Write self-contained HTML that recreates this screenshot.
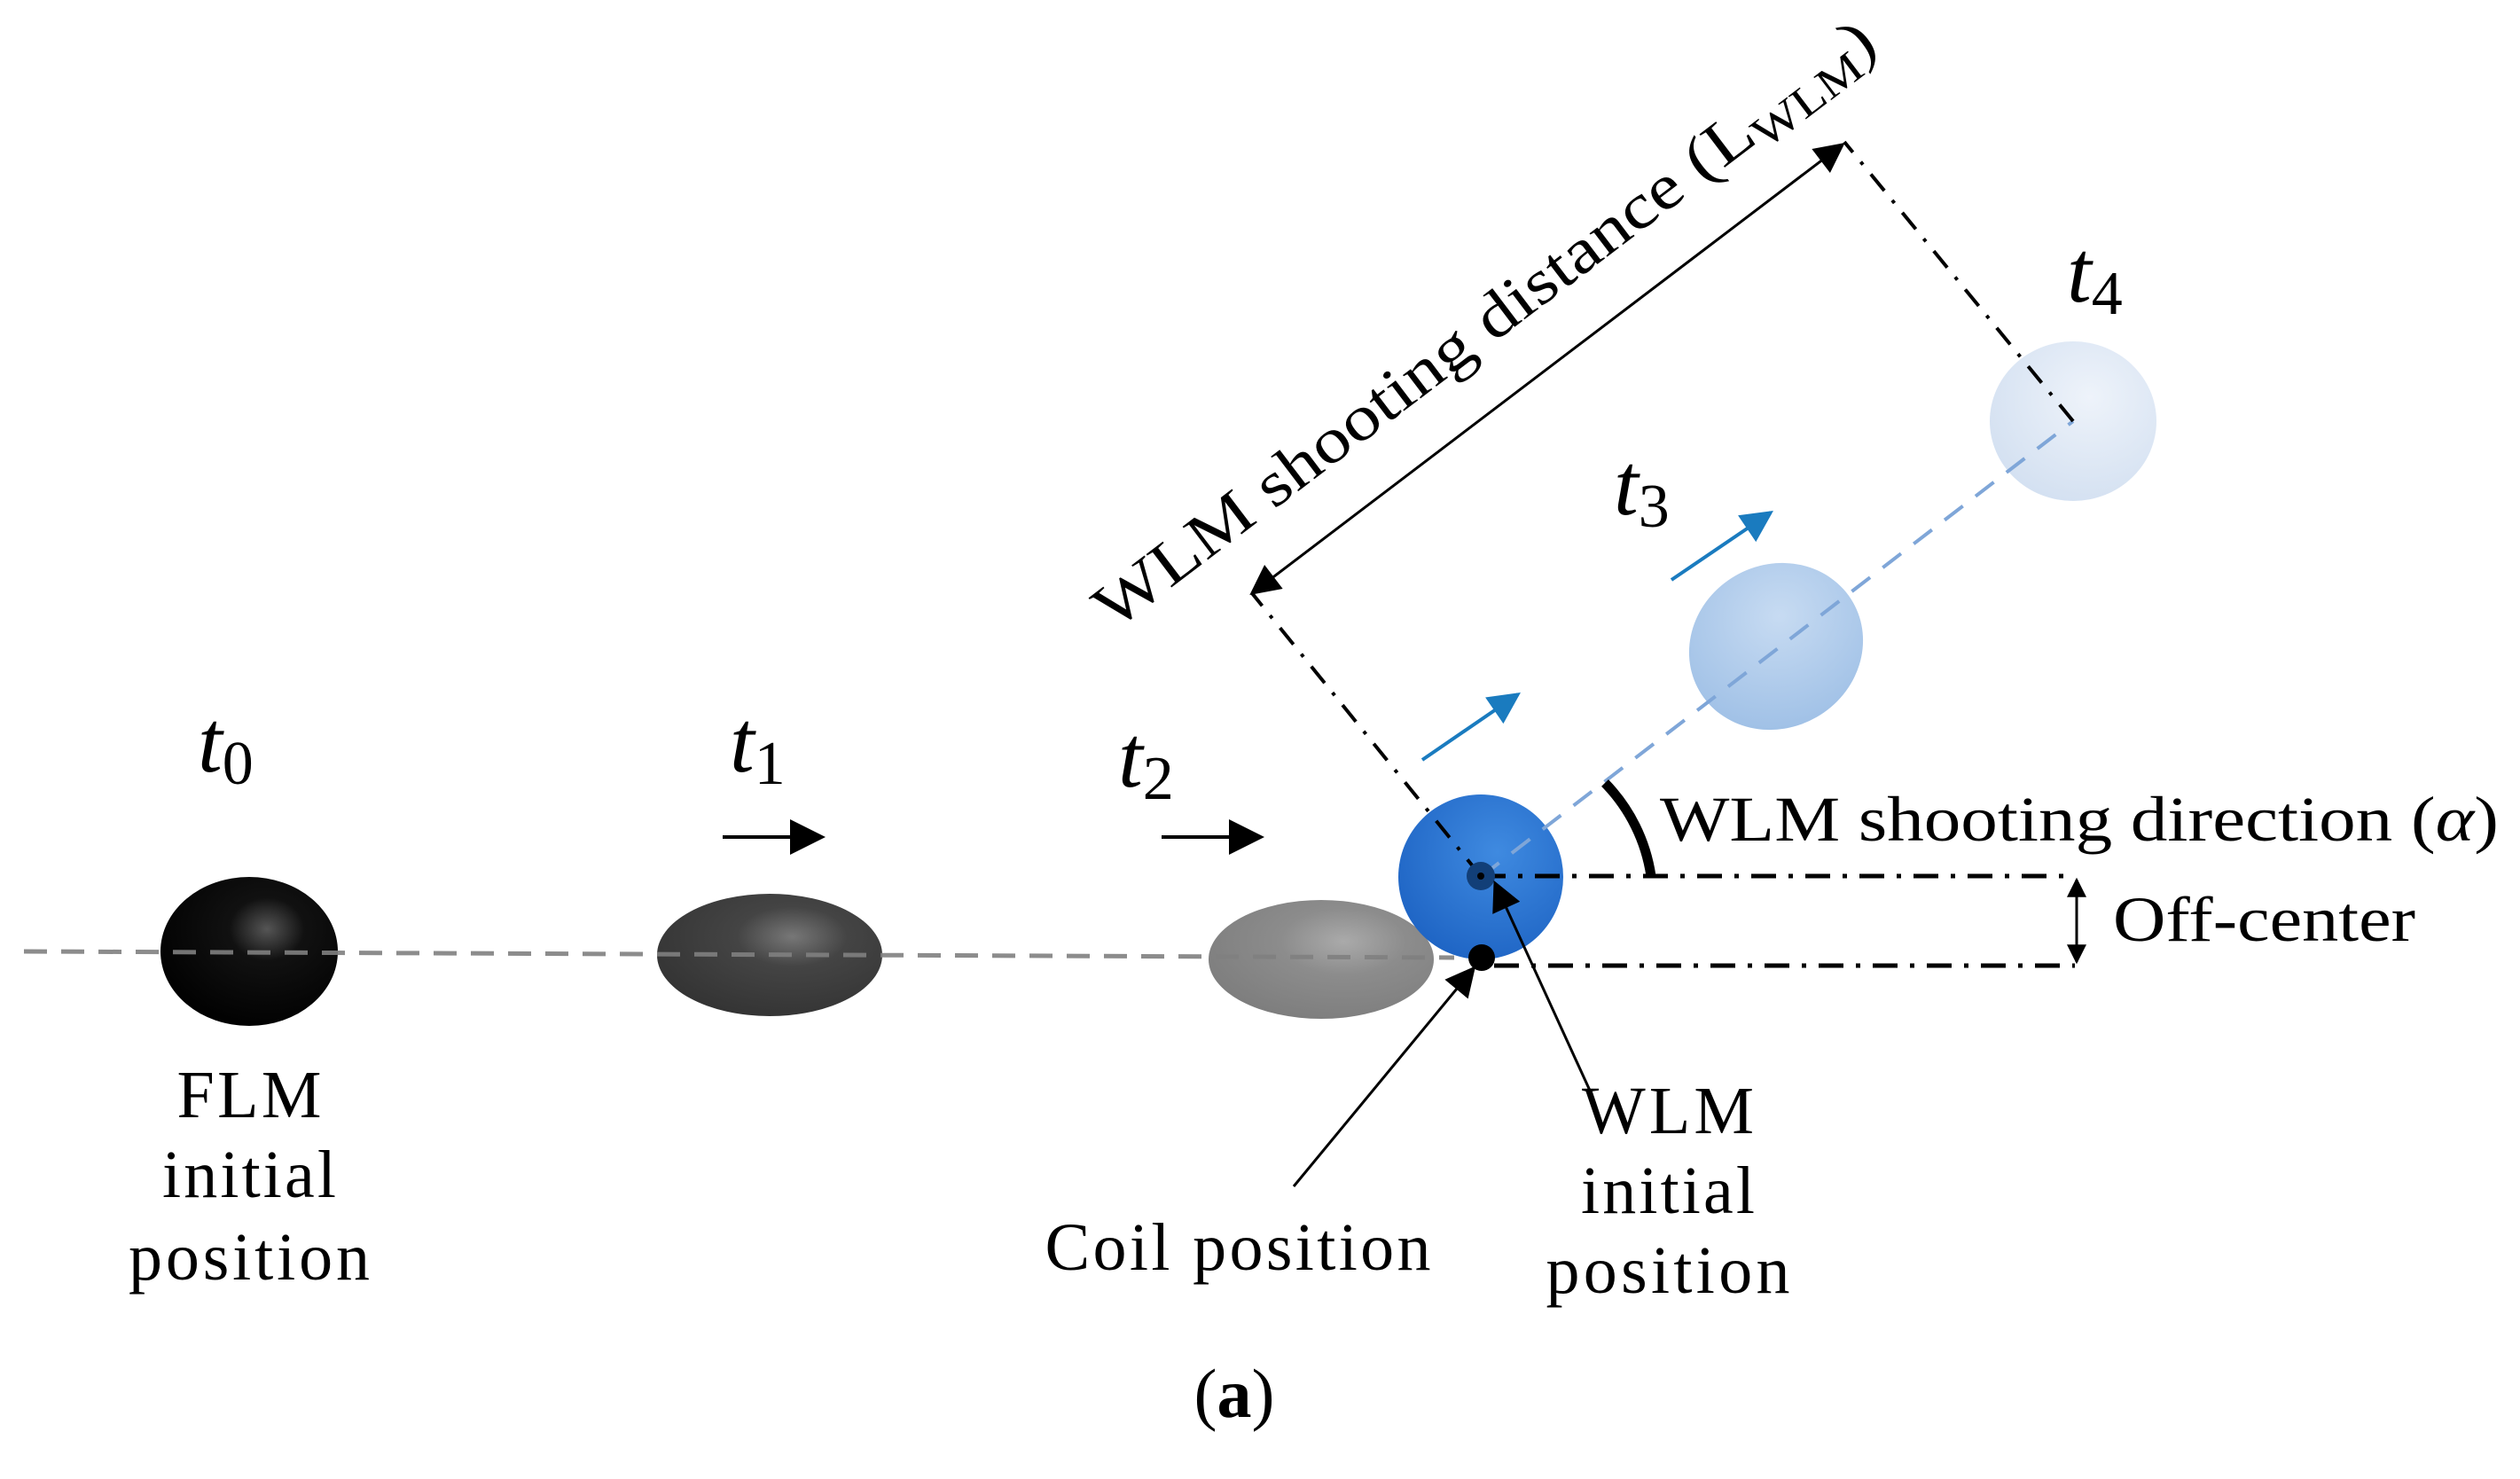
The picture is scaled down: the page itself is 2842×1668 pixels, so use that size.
<!DOCTYPE html>
<html><head><meta charset="utf-8"><style>
html,body{margin:0;padding:0;background:#fff;}
svg{display:block}
text{font-family:"Liberation Serif",serif;fill:#000}
</style></head><body>
<svg width="2842" height="1668" viewBox="0 0 2842 1668" xmlns="http://www.w3.org/2000/svg">
<defs>
<marker id="ahm" viewBox="0 0 10 10" refX="9" refY="5" markerWidth="40" markerHeight="40" orient="auto" markerUnits="userSpaceOnUse"><path d="M0,0 L10,5 L0,10 z" fill="#000"/></marker>
<marker id="ah" viewBox="0 0 10 10" refX="9" refY="5" markerWidth="24" markerHeight="22" orient="auto-start-reverse" markerUnits="userSpaceOnUse"><path d="M0,0 L10,5 L0,10 z" fill="#000"/></marker>
<marker id="ahs" viewBox="0 0 10 10" refX="9" refY="5" markerWidth="38" markerHeight="34" orient="auto-start-reverse" markerUnits="userSpaceOnUse"><path d="M0,0 L10,5 L0,10 z" fill="#000"/></marker>
<marker id="ahb" viewBox="0 0 10 10" refX="9" refY="5" markerWidth="38" markerHeight="36" orient="auto" markerUnits="userSpaceOnUse"><path d="M0,0 L10,5 L0,10 z" fill="#1a7bbf"/></marker>
<radialGradient id="g0" cx="0.6" cy="0.35" r="0.7"><stop offset="0" stop-color="#555"/><stop offset="0.3" stop-color="#111"/><stop offset="1" stop-color="#000"/></radialGradient>
<radialGradient id="g1" cx="0.6" cy="0.35" r="0.7"><stop offset="0" stop-color="#777"/><stop offset="0.35" stop-color="#444"/><stop offset="1" stop-color="#333"/></radialGradient>
<radialGradient id="g2" cx="0.6" cy="0.35" r="0.7"><stop offset="0" stop-color="#aaa"/><stop offset="0.4" stop-color="#8c8c8c"/><stop offset="1" stop-color="#7d7d7d"/></radialGradient>
<radialGradient id="gb" cx="0.6" cy="0.35" r="0.7"><stop offset="0" stop-color="#3f8ae0"/><stop offset="1" stop-color="#1e64c4"/></radialGradient>
<radialGradient id="g3" cx="0.6" cy="0.35" r="0.7"><stop offset="0" stop-color="#c7dbf2"/><stop offset="1" stop-color="#9fc0e6"/></radialGradient>
<radialGradient id="g4" cx="0.6" cy="0.35" r="0.7"><stop offset="0" stop-color="#eef3fa"/><stop offset="1" stop-color="#d3e0f1"/></radialGradient>
</defs>

<ellipse cx="281" cy="1073" rx="100" ry="84" fill="url(#g0)"/>
<ellipse cx="868" cy="1077" rx="127" ry="69" fill="url(#g1)"/>
<ellipse cx="1490" cy="1082" rx="127" ry="67" fill="url(#g2)"/>
<line x1="27" y1="1073" x2="1640" y2="1080" stroke="#808080" stroke-width="5" stroke-dasharray="26,16" opacity="0.9"/>

<ellipse cx="2003" cy="729" rx="100" ry="92" fill="url(#g3)" transform="rotate(-30 2003 729)"/>
<ellipse cx="2338" cy="475" rx="94" ry="90" fill="url(#g4)"/>
<circle cx="1670" cy="989" r="93" fill="url(#gb)"/>

<line x1="1670" y1="989" x2="2338" y2="475" stroke="#7fa6d8" stroke-width="4" stroke-dasharray="26,18"/>

<g stroke="#000" stroke-width="5" stroke-dasharray="28,14,5,14" fill="none">
<line x1="1670" y1="988" x2="2340" y2="988"/>
<line x1="1685" y1="1089" x2="2340" y2="1089"/>
</g>
<g stroke="#000" stroke-width="4" stroke-dasharray="24,14,4,14" fill="none">
<line x1="1670" y1="988" x2="1412" y2="669"/>
<line x1="2338" y1="475" x2="2080" y2="160"/>
</g>

<line x1="1412" y1="669" x2="2078" y2="163" stroke="#000" stroke-width="3" marker-start="url(#ahs)" marker-end="url(#ahs)"/>
<text x="0" y="0" font-size="72" transform="translate(1256,712) rotate(-37.2)" textLength="1085" lengthAdjust="spacingAndGlyphs">WLM shooting distance (L<tspan font-size="50" dy="12">WLM</tspan><tspan dy="-12">)</tspan></text>

<circle cx="1670" cy="988" r="16" fill="#123f78"/>
<circle cx="1670" cy="988" r="4" fill="#000"/>
<circle cx="1671" cy="1080" r="15" fill="#000"/>

<path d="M1810,883 A 190 190 0 0 1 1862,988" fill="none" stroke="#000" stroke-width="11"/>

<line x1="2342" y1="992" x2="2342" y2="1085" stroke="#000" stroke-width="3" marker-start="url(#ah)" marker-end="url(#ah)"/>

<line x1="815" y1="944" x2="927" y2="944" stroke="#000" stroke-width="4" marker-end="url(#ahm)"/>
<line x1="1310" y1="944" x2="1422" y2="944" stroke="#000" stroke-width="4" marker-end="url(#ahm)"/>
<line x1="1604" y1="857" x2="1712" y2="783" stroke="#1a7bbf" stroke-width="4" marker-end="url(#ahb)"/>
<line x1="1885" y1="654" x2="1997" y2="578" stroke="#1a7bbf" stroke-width="4" marker-end="url(#ahb)"/>

<line x1="1459" y1="1338" x2="1662" y2="1092" stroke="#000" stroke-width="3" marker-end="url(#ahs)"/>
<line x1="1794" y1="1232" x2="1686" y2="996" stroke="#000" stroke-width="3" marker-end="url(#ahs)"/>

<g font-style="italic" font-size="100">
<text x="223" y="870">t<tspan font-style="normal" font-size="70" dy="14">0</tspan></text>
<text x="823" y="870">t<tspan font-style="normal" font-size="70" dy="14">1</tspan></text>
<text x="1261" y="887">t<tspan font-style="normal" font-size="70" dy="14">2</tspan></text>
<text x="1820" y="580">t<tspan font-style="normal" font-size="70" dy="14">3</tspan></text>
<text x="2331" y="340">t<tspan font-style="normal" font-size="70" dy="14">4</tspan></text>
</g>

<g font-size="76" text-anchor="middle" lengthAdjust="spacingAndGlyphs">
<text x="281" y="1260" textLength="163">FLM</text>
<text x="281" y="1350" textLength="196">initial</text>
<text x="281" y="1443" textLength="272">position</text>
<text x="1396" y="1432" textLength="435">Coil position</text>
<text x="1881" y="1278" textLength="194">WLM</text>
<text x="1881" y="1368" textLength="196">initial</text>
<text x="1881" y="1458" textLength="275">position</text>
</g>
<text x="1872" y="948" font-size="72" textLength="946" lengthAdjust="spacingAndGlyphs">WLM shooting direction (<tspan font-style="italic">α</tspan>)</text>
<text x="2383" y="1061" font-size="72" textLength="341" lengthAdjust="spacingAndGlyphs">Off-center</text>
<text x="1392" y="1598" font-size="78" text-anchor="middle">(<tspan font-weight="bold">a</tspan>)</text>
</svg>
</body></html>
